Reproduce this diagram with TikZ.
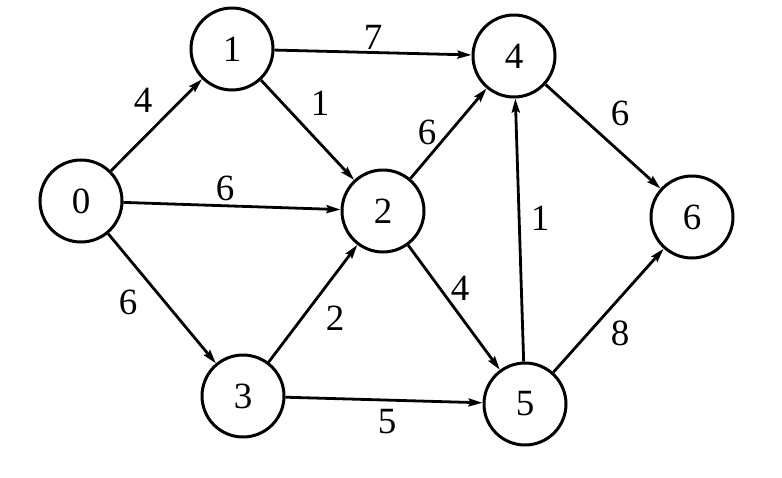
\documentclass[tikz,border=0pt]{standalone}
\usepackage{fontspec}
\setmainfont{Liberation Serif}
\usetikzlibrary{arrows.meta}
\begin{document}
\begin{tikzpicture}[x=1pt,y=-1pt,
  vertex/.style={draw,circle,line width=3pt,minimum size=82pt,inner sep=0pt,font=\fontsize{37}{38}\selectfont},
  edge/.style={line width=2.8pt,-{Stealth[length=14pt,width=8pt,inset=2pt]}},
  wt/.style={font=\fontsize{37}{38}\selectfont,inner sep=0pt}]
\useasboundingbox (0,0) rectangle (782,477);
\node[vertex] (n0) at (81,201) {0};
\node[vertex] (n1) at (232,49) {1};
\node[vertex] (n2) at (383,211) {2};
\node[vertex] (n3) at (243,396) {3};
\node[vertex] (n4) at (514,56) {4};
\node[vertex] (n5) at (525,404) {5};
\node[vertex] (n6) at (692,217) {6};
\draw[edge] (n0) -- (n1);
\draw[edge] (n0) -- (n2);
\draw[edge] (n0) -- (n3);
\draw[edge] (n1) -- (n4);
\draw[edge] (n1) -- (n2);
\draw[edge] (n2) -- (n4);
\draw[edge] (n2) -- (n5);
\draw[edge] (n3) -- (n2);
\draw[edge] (n3) -- (n5);
\draw[edge] (n5) -- (n4);
\draw[edge] (n4) -- (n6);
\draw[edge] (n5) -- (n6);
\node[wt] (w01) at (143,100) {4};
\node[wt] (w14) at (373,37) {7};
\node[wt] (w12) at (320,103) {1};
\node[wt] (w02) at (225,188) {6};
\node[wt] (w24) at (427,132) {6};
\node[wt] (w54) at (540,218) {1};
\node[wt] (w46) at (620,113) {6};
\node[wt] (w03) at (128,302) {6};
\node[wt] (w32) at (335,318) {2};
\node[wt] (w35) at (387,422) {5};
\node[wt] (w25) at (460,288) {4};
\node[wt] (w56) at (620,333) {8};
\end{tikzpicture}
\end{document}
